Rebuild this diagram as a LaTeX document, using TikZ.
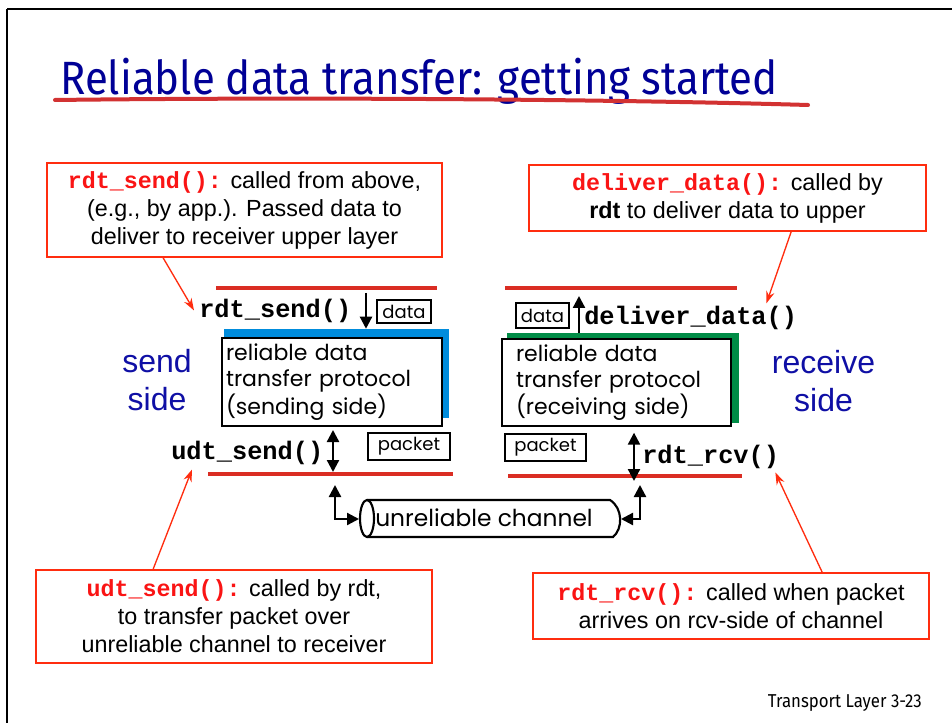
\documentclass[tikz,border=0pt]{standalone}
\usepackage{fontspec}
\setmainfont{Liberation Sans}
\setmonofont{Liberation Mono}
\newfontfamily\gothic{Poppins}
\newfontfamily\titlefont[FakeStretch=0.9]{Fira Sans}
\usetikzlibrary{arrows.meta,positioning,calc}
\definecolor{titleblue}{RGB}{0,0,150}
\definecolor{sideblue}{RGB}{15,15,165}
\definecolor{callred}{RGB}{255,45,15}
\definecolor{fnred}{RGB}{250,20,20}
\definecolor{layred}{RGB}{218,45,35}
\definecolor{ulred}{RGB}{210,50,50}
\definecolor{sendblue}{RGB}{0,140,220}
\definecolor{rcvgreen}{RGB}{0,140,70}
\newcommand{\px}{0.75pt}
\newcommand{\fn}[1]{\textcolor{fnred}{\ttfamily\bfseries #1}}
\tikzset{
  callout/.style={draw=callred, line width=1.3pt, inner sep=0pt, align=center,
    font=\fontsize{17.5}{21}\selectfont},
  callarrow/.style={draw=callred, line width=1pt, -{Stealth[length=3.2mm,width=2.2mm]}},
  layerline/.style={draw=layred, line width=3pt},
  fnname/.style={font=\fontsize{19}{22}\selectfont\ttfamily\bfseries, inner sep=0pt, anchor=base west},
  proto/.style={draw=black, line width=2pt, fill=white, inner sep=0pt, align=left,
    font=\gothic\fontsize{16.5}{19.5}\selectfont},
  backbox/.style={inner sep=0pt},
  tagbox/.style={draw=black, line width=1.6pt, inner sep=0pt, font=\gothic\fontsize{13.5}{15}\selectfont},
  sidelabel/.style={text=sideblue, align=center, font=\fontsize{24}{28.5}\selectfont},
  arrow/.style={line width=1.7pt, -{Triangle[length=9pt,width=9pt]}},
  biarrow/.style={line width=1.7pt, {Triangle[length=9pt,width=9pt]}-{Triangle[length=9pt,width=9pt]}},
  chanline/.style={draw=black, line width=1.6pt},
}
\begin{document}
\begin{tikzpicture}[x=0.75pt,y=-0.75pt]
  \useasboundingbox[fill=white] (0,0) rectangle (952,723);
  % slide frame
  \draw[line width=2.2pt] (7,9) -- (952,9);
  \draw[line width=1pt] (7,9) -- (7,723);

  % title
  \node[anchor=base west, inner sep=0pt, text=titleblue,
    font=\titlefont\fontsize{35}{40}\selectfont] (title) at (60,95) {Reliable data transfer: getting started};
  \draw[draw=ulred, line width=3pt, line cap=round] (55,100) .. controls (300,97) and (600,99) .. (808,105);

  % layer lines
  \draw[layerline] (216,288) -- (437,288);
  \draw[layerline] (208,474) -- (453,474);
  \draw[layerline] (505,288) -- (737,288);
  \draw[layerline] (508,476) -- (742,476);

  % protocol boxes
  \node[backbox, fill=sendblue, minimum width=225*\px, minimum height=89*\px] (sendbg) at (336.5,373.5) {};
  \node[proto, minimum width=220*\px, minimum height=88*\px, text width=212*\px] (sendproto) at (332,382)
    {reliable data\\transfer protocol\\(sending side)};
  \node[backbox, fill=rcvgreen, minimum width=232*\px, minimum height=90*\px] (rcvbg) at (623,378) {};
  \node[proto, minimum width=229*\px, minimum height=87*\px, text width=201*\px] (rcvproto) at (616.5,382.5)
    {reliable data\\transfer protocol\\(receiving side)};

  \node[sidelabel] (sendside) at (157,380) {send\\side};
  \node[sidelabel] (rcvside) at (823.5,381) {receive\\side};

  % data / packet tags
  \node[tagbox, minimum width=54*\px, minimum height=23*\px] (senddata) at (404,311.5) {data};
  \node[tagbox, minimum width=82*\px, minimum height=27*\px] (sendpkt) at (409,446.5) {packet};
  \node[tagbox, minimum width=53*\px, minimum height=25*\px] (rcvdata) at (542.5,315.5) {data};
  \node[tagbox, minimum width=81*\px, minimum height=27*\px] (rcvpkt) at (545.5,447.5) {packet};

  % interface calls
  \node[fnname] (rdtsend) at (199,317) {rdt\_send()};
  \node[fnname] (udtsend) at (171,459) {udt\_send()};
  \node[fnname] (deliver) at (584,325) {deliver\_data()};
  \node[fnname] (rdtrcv) at (642,463) {rdt\_rcv()};

  \coordinate (sdin) at (366,293);
  \coordinate (sdout) at (333,472);
  \coordinate (rdup) at (579,296);
  \coordinate (rdin) at (634,481);
  \draw[arrow] (sdin) -- (sdin |- sendbg.north);
  \draw[biarrow] ([yshift=-2pt]sdout |- sendproto.south) -- (sdout);
  \draw[arrow] (rdup |- rcvbg.north) -- (rdup);
  \draw[biarrow] ([yshift=-4pt]rdin |- rcvproto.south) -- (rdin);

  % channel
  \node[inner sep=0pt, font=\gothic\fontsize{17.5}{20}\selectfont] (chan) at (484,518) {unreliable channel};
  \draw[chanline] (367,518.5) ellipse [x radius=7*\px, y radius=18.5*\px];
  \draw[chanline] (367,500) -- (610,500) .. controls (623,508) and (623,529) .. (613,537) -- (367,537);
  \coordinate (chl) at (335,485);
  \coordinate (chr) at (640,485);
  \coordinate (chanL) at (359,519);
  \coordinate (chanR) at (621,519);
  \draw[biarrow] (chl) |- (chanL);
  \draw[biarrow] (chr) |- (chanR);

  % callouts
  \node[callout, minimum width=395*\px, minimum height=94*\px] (sendcall) at (244.5,210)
    {\fn{rdt\_send():} called from above,\\(e.g., by app.). Passed data to\\deliver to receiver upper layer};
  \node[callout, minimum width=397*\px, minimum height=66*\px] (delcall) at (727.5,198)
    {\fn{deliver\_data():} called by\\\textbf{rdt} to deliver data to upper};
  \node[callout, minimum width=396*\px, minimum height=93*\px] (udtcall) at (234,616.5)
    {\fn{udt\_send():} called by rdt,\\to transfer packet over\\unreliable channel to receiver};
  \node[callout, minimum width=396*\px, minimum height=66*\px] (rcvcall) at (731,606)
    {\fn{rdt\_rcv():} called when packet\\arrives on rcv-side of channel};

  \draw[callarrow] ($(sendcall.south west)+(117,0)$) -- ([xshift=-5*\px]rdtsend.west);
  \draw[callarrow] ($(delcall.south west)+(263,0)$) -- ($(deliver.north east)+(-31,-3)$);
  \draw[callarrow] ($(udtcall.north west)+(118,0)$) -- ($(udtsend.south west)+(21,5)$);
  \draw[callarrow] ($(rcvcall.north west)+(290,0)$) -- ($(rdtrcv.south east)+(-4,4)$);

  \node[anchor=east, inner sep=0pt, font=\titlefont\fontsize{14}{16}\selectfont] (foot) at (922,703) {Transport Layer 3-23};
\end{tikzpicture}
\end{document}
